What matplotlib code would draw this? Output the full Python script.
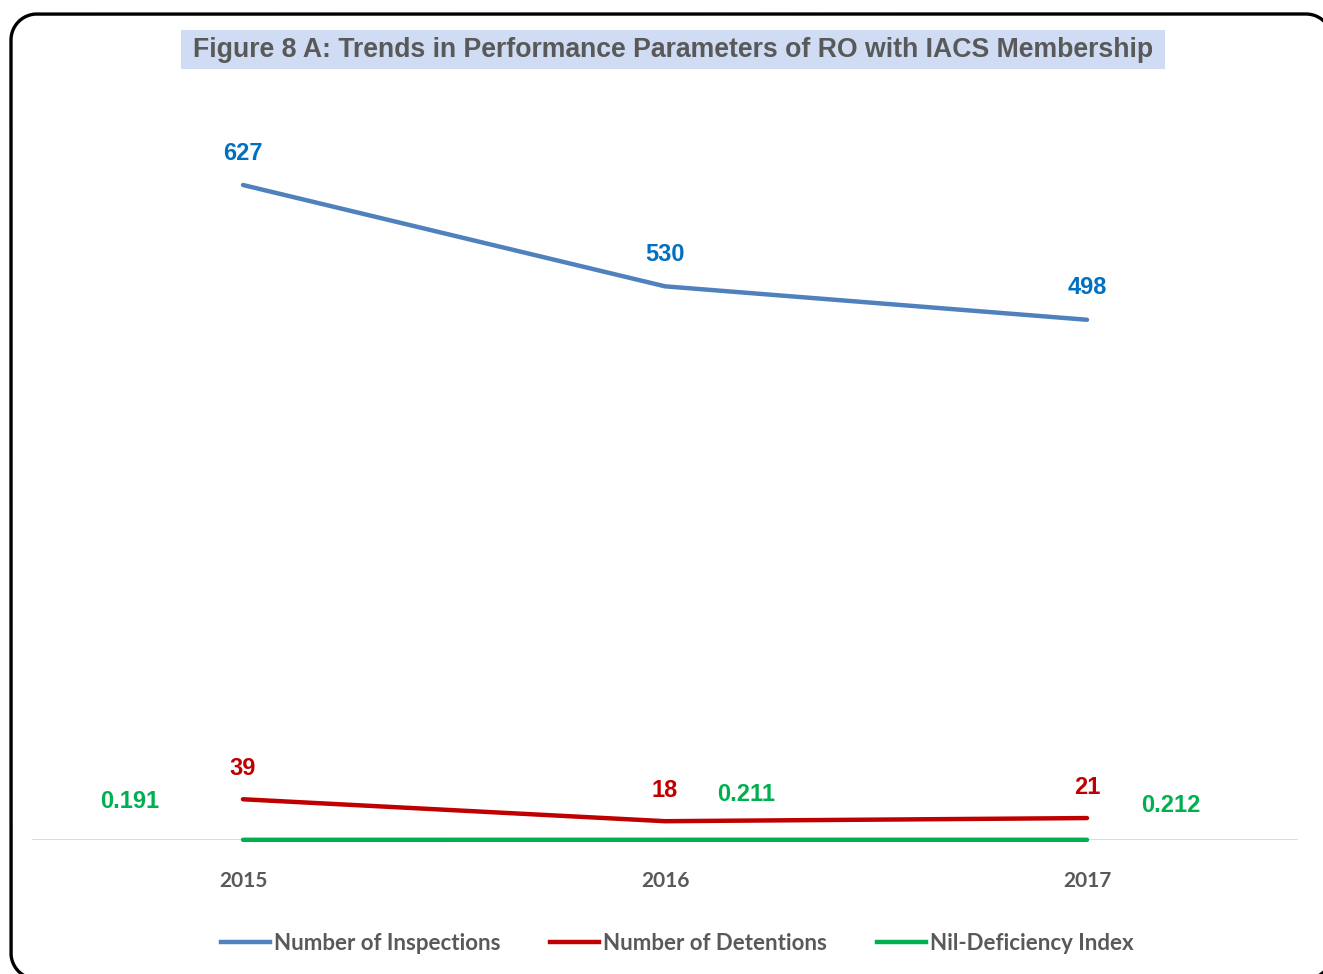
import matplotlib
matplotlib.use("Agg")
import numpy as np
import matplotlib.pyplot as plt
from matplotlib.patches import Rectangle
from matplotlib.lines import Line2D

years = ["2015", "2016", "2017"]
inspections = [627, 530, 498]
detentions = [39, 18, 21]
nil_def_index = [0.191, 0.211, 0.212]
series_names = ["Number of Inspections", "Number of Detentions", "Nil-Deficiency Index"]
title = "Figure 8 A: Trends in Performance Parameters of RO with IACS Membership"

W, H = 1323, 974
fig = plt.figure(figsize=(W / 100, H / 100), dpi=100)

def fx(px):
    return px / W

def fy(py):
    return 1 - py / H

# Outer rounded frame as a polyline (pixel coords, y down)
L, T, R, B, r = 11, 14, 1332, 979, 26
def arc(cx, cy, a0, a1):
    a = np.linspace(np.radians(a0), np.radians(a1), 40)
    return list(cx + r * np.cos(a)), list(cy - r * np.sin(a))
xs, ys = [], []
for seg in [arc(R - r, T + r, 0, 90), arc(L + r, T + r, 90, 180),
            arc(L + r, B - r, 180, 270), arc(R - r, B - r, 270, 360)]:
    xs += seg[0]
    ys += seg[1]
xs.append(xs[0]); ys.append(ys[0])
fig.add_artist(Line2D([fx(v) for v in xs], [fy(v) for v in ys],
                      transform=fig.transFigure, color="black", lw=2.4,
                      solid_joinstyle="round"))

# Title box
tb = Rectangle((fx(181), fy(69)), fx(1165) - fx(181), fy(30) - fy(69),
               transform=fig.transFigure, fc="#cfdcf3", ec="none")
fig.patches.append(tb)
fig.text(fx(673), fy(50), title, ha="center", va="center", fontsize=19.2,
         fontweight="bold", color="#595959", family="Liberation Sans")

# Axes
ymax = 700
scale = (840 - 185) / 627
top_px = 840 - ymax * scale
ax = fig.add_axes([fx(32), fy(840), fx(1298) - fx(32), fy(top_px) - fy(840)])
ax.patch.set_alpha(0)
x = list(range(len(years)))
ax.set_xlim(-0.5, len(years) - 0.5)
ax.set_ylim(0, ymax)

c_blue, c_red, c_green = "#4f81bd", "#c00000", "#00b050"
ax.plot(x, inspections, color=c_blue, lw=3.2, solid_capstyle="round", zorder=3, clip_on=False)
ax.plot(x, detentions, color=c_red, lw=3.2, solid_capstyle="round", zorder=3, clip_on=False)
ax.plot(x, nil_def_index, color=c_green, lw=3.2, solid_capstyle="round", zorder=3, clip_on=False)

ax.axhline(0, color="#d9d9d9", lw=1.3, zorder=1)
for s in ax.spines.values():
    s.set_visible(False)
ax.set_yticks([])
ax.set_xticks(x)
ax.set_xticklabels(years, fontsize=15, fontweight="bold", color="#595959",
                   family="Lato")
ax.tick_params(axis="x", length=0, pad=22)

lab_kw = dict(textcoords="offset pixels", ha="center", va="center",
              fontsize=17, fontweight="bold", family="Liberation Sans")
for xi, v in zip(x, inspections):
    ax.annotate(f"{v}", (xi, v), xytext=(0, 32), color="#0070c0", **lab_kw)
for xi, v in zip(x, detentions):
    ax.annotate(f"{v}", (xi, v), xytext=(0, 31), color=c_red, **lab_kw)
green_offsets = [(-113, 38), (81, 45), (84, 34)]
for xi, v, off in zip(x, nil_def_index, green_offsets):
    ax.annotate(f"{v:.3f}", (xi, v), xytext=off, color=c_green, **lab_kw)

handles = [Line2D([], [], color=c, lw=3.2) for c in (c_blue, c_red, c_green)]
leg = fig.legend(handles, series_names, loc="center", bbox_to_anchor=(fx(677), fy(943)),
                 ncol=3, frameon=False, handlelength=2.2, handletextpad=0.18,
                 columnspacing=2.25,
                 prop={"family": "Lato", "weight": "bold", "size": 16})
for t in leg.get_texts():
    t.set_color("#595959")

fig.savefig("out.png", dpi=100)
